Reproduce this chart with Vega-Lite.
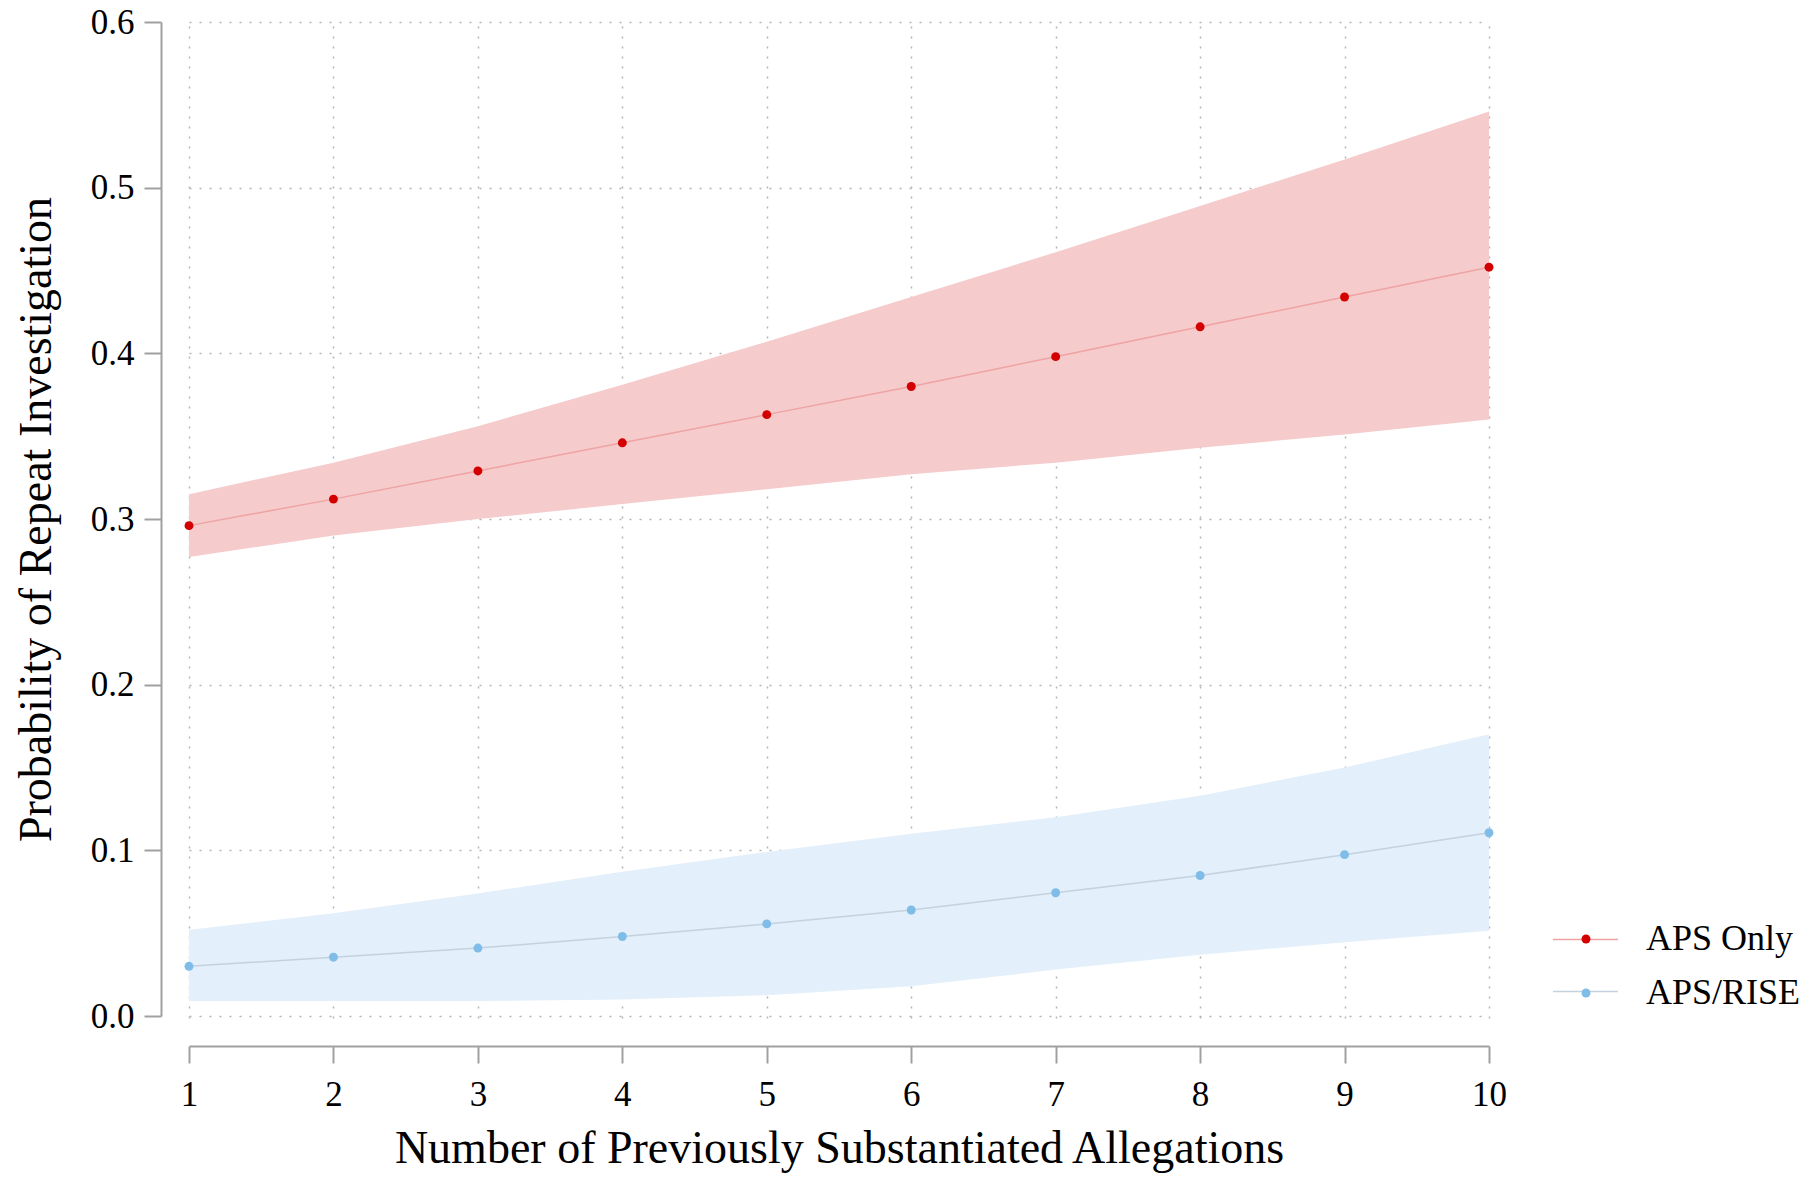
{
  "$schema": "https://vega.github.io/schema/vega-lite/v6.json",
  "width": 1339,
  "height": 1028,
  "autosize": {"type": "none"},
  "padding": {"left": 171, "top": 7, "right": 298, "bottom": 142},
  "background": "white",
  "config": {
    "view": {"stroke": null},
    "font": "Liberation Serif",
    "axis": {
      "labelFont": "Liberation Serif",
      "titleFont": "Liberation Serif",
      "labelColor": "black",
      "titleColor": "black",
      "labelFontSize": 35,
      "titleFontSize": 46,
      "titleFontWeight": "normal",
      "domainColor": "#a0a0a0",
      "domainWidth": 2,
      "tickColor": "#a0a0a0",
      "tickWidth": 2,
      "tickSize": 17,
      "gridColor": "#b4b4b4",
      "gridWidth": 1.5,
      "gridDash": [2, 8],
      "labelFlush": false,
      "labelOverlap": false,
      "labelBound": false
    },
    "legend": {
      "labelFont": "Liberation Serif",
      "labelFontSize": 36,
      "labelColor": "black",
      "padding": 0
    }
  },
  "resolve": {"legend": {"stroke": "independent", "fill": "independent"}},
  "data": {
    "values": [
      {"n": 1, "group": "APS Only", "est": 0.296, "lo": 0.277, "hi": 0.315},
      {"n": 2, "group": "APS Only", "est": 0.312, "lo": 0.290, "hi": 0.334},
      {"n": 3, "group": "APS Only", "est": 0.329, "lo": 0.300, "hi": 0.356},
      {"n": 4, "group": "APS Only", "est": 0.346, "lo": 0.309, "hi": 0.381},
      {"n": 5, "group": "APS Only", "est": 0.363, "lo": 0.318, "hi": 0.407},
      {"n": 6, "group": "APS Only", "est": 0.380, "lo": 0.327, "hi": 0.434},
      {"n": 7, "group": "APS Only", "est": 0.398, "lo": 0.334, "hi": 0.461},
      {"n": 8, "group": "APS Only", "est": 0.416, "lo": 0.343, "hi": 0.489},
      {"n": 9, "group": "APS Only", "est": 0.434, "lo": 0.351, "hi": 0.517},
      {"n": 10, "group": "APS Only", "est": 0.452, "lo": 0.360, "hi": 0.546},
      {"n": 1, "group": "APS/RISE", "est": 0.030, "lo": 0.009, "hi": 0.052},
      {"n": 2, "group": "APS/RISE", "est": 0.0355, "lo": 0.009, "hi": 0.062},
      {"n": 3, "group": "APS/RISE", "est": 0.041, "lo": 0.009, "hi": 0.074},
      {"n": 4, "group": "APS/RISE", "est": 0.048, "lo": 0.010, "hi": 0.087},
      {"n": 5, "group": "APS/RISE", "est": 0.0556, "lo": 0.0125, "hi": 0.099},
      {"n": 6, "group": "APS/RISE", "est": 0.064, "lo": 0.018, "hi": 0.110},
      {"n": 7, "group": "APS/RISE", "est": 0.0744, "lo": 0.028, "hi": 0.120},
      {"n": 8, "group": "APS/RISE", "est": 0.0848, "lo": 0.037, "hi": 0.133},
      {"n": 9, "group": "APS/RISE", "est": 0.0974, "lo": 0.0445, "hi": 0.150},
      {"n": 10, "group": "APS/RISE", "est": 0.1106, "lo": 0.0515, "hi": 0.170}
    ]
  },
  "encoding": {
    "x": {
      "field": "n",
      "type": "quantitative",
      "scale": {"domain": [1, 10], "range": [18, 1318], "nice": false, "zero": false},
      "axis": {
        "title": "Number of Previously Substantiated Allegations",
        "values": [1, 2, 3, 4, 5, 6, 7, 8, 9, 10],
        "format": "d",
        "offset": 11,
        "labelPadding": 14,
        "titlePadding": 14
      }
    }
  },
  "layer": [
    {
      "mark": {"type": "area", "opacity": 1},
      "encoding": {
        "y": {
          "field": "lo",
          "type": "quantitative",
          "scale": {"domain": [0, 0.6], "range": [1009, 15], "nice": false, "zero": false},
          "axis": {
            "title": "Probability of Repeat Investigation",
            "values": [0, 0.1, 0.2, 0.3, 0.4, 0.5, 0.6],
            "format": ".1f",
            "offset": 10,
            "labelPadding": 10,
            "titlePadding": 30
          }
        },
        "y2": {"field": "hi"},
        "color": {
          "field": "group",
          "type": "nominal",
          "scale": {"domain": ["APS Only", "APS/RISE"], "range": ["#f5cbcc", "#e3effa"]},
          "legend": null
        }
      }
    },
    {
      "mark": {"type": "line", "strokeWidth": 1.5},
      "encoding": {
        "y": {"field": "est", "type": "quantitative"},
        "stroke": {
          "field": "group",
          "type": "nominal",
          "scale": {"domain": ["APS Only", "APS/RISE"], "range": ["#efa3a3", "#c3d2de"]},
          "legend": {
            "title": null,
            "orient": "none",
            "symbolType": "stroke",
            "symbolSize": 4225,
            "symbolStrokeWidth": 1.5,
            "labelExpr": "''",
            "rowPadding": -11,
            "legendX": 1381,
            "legendY": 899
          }
        }
      }
    },
    {
      "mark": {"type": "point", "filled": true, "size": 80, "opacity": 1, "strokeWidth": 0},
      "encoding": {
        "y": {"field": "est", "type": "quantitative"},
        "fill": {
          "field": "group",
          "type": "nominal",
          "scale": {"domain": ["APS Only", "APS/RISE"], "range": ["#d40000", "#7fbde8"]},
          "legend": {
            "title": null,
            "orient": "none",
            "symbolType": "circle",
            "symbolSize": 80,
            "symbolStrokeWidth": 0,
            "symbolOpacity": 1,
            "rowPadding": 18,
            "labelOffset": 42,
            "legendX": 1397,
            "legendY": 914
          }
        }
      }
    }
  ]
}
